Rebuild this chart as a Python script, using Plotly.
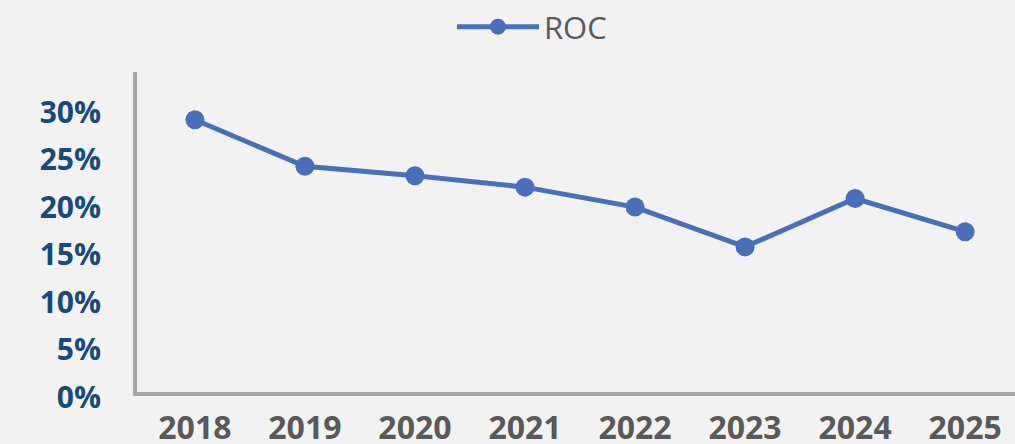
import plotly.graph_objects as go

# ── Data ─────────────────────────────────────────────────────────────────────

YEARS = ["2018", "2019", "2020", "2021", "2022", "2023", "2024", "2025"]
ROC = [0.287, 0.238, 0.228, 0.216, 0.195, 0.153, 0.204, 0.169]
Y_TICKS = [0, 0.05, 0.10, 0.15, 0.20, 0.25, 0.30]

# ── Colors ───────────────────────────────────────────────────────────────────

LINE_COLOR = "#4a6fba"
AXIS_COLOR = "#a6a6a6"
YLABEL_COLOR = "#174a7c"
XLABEL_COLOR = "#595959"
BG_COLOR = "#f2f2f2"

fig = go.Figure(go.Scatter(
    x=YEARS,
    y=ROC,
    name="ROC",
    mode="lines+markers",
    line=dict(color=LINE_COLOR, width=5),
    marker=dict(color=LINE_COLOR, size=19),
))

fig.update_layout(
    width=1015,
    height=444,
    paper_bgcolor=BG_COLOR,
    plot_bgcolor=BG_COLOR,
    margin=dict(l=137, r=0, t=72, b=52),
    font=dict(family="Open Sans", color=XLABEL_COLOR),
    showlegend=True,
    legend=dict(
        orientation="h",
        x=0.4453, xref="container", xanchor="left",
        y=1.0, yref="container", yanchor="top",
        itemwidth=82,
        font=dict(size=31, color=XLABEL_COLOR),
        bgcolor="rgba(0,0,0,0)",
    ),
    xaxis=dict(
        range=[-0.526, 7.453],
        showgrid=False,
        zeroline=False,
        showline=True,
        linecolor=AXIS_COLOR,
        linewidth=4,
        ticks="",
        automargin=False,
        tickfont=dict(size=32, color=XLABEL_COLOR, family="Open Sans", weight="bold"),
        ticklabelstandoff=5,
    ),
    yaxis=dict(
        range=[0, 0.3374],
        tickvals=Y_TICKS,
        tickformat=".0%",
        showgrid=False,
        zeroline=False,
        showline=True,
        linecolor=AXIS_COLOR,
        linewidth=4,
        ticks="",
        automargin=False,
        tickfont=dict(size=30, color=YLABEL_COLOR, family="Open Sans", weight="bold"),
        ticklabelstandoff=26,
        ticklabelshift=5,
    ),
)

fig.write_html(
    "out.html",
    config={"displayModeBar": False},
    post_script="document.body.style.margin = '0';",
)
